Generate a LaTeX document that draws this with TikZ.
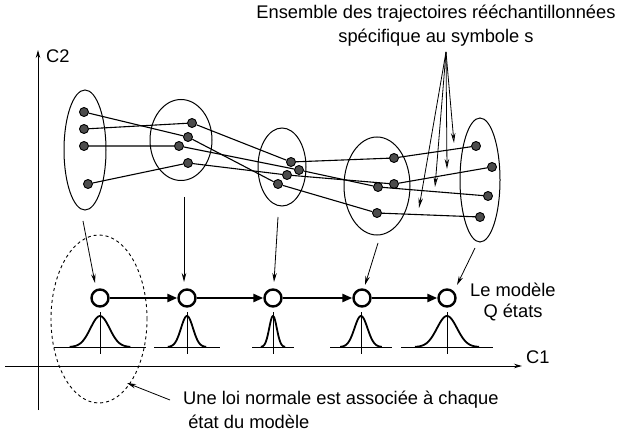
\documentclass[tikz,border=0pt]{standalone}
\usepackage{fontspec}
\setmainfont{Liberation Sans}
\usetikzlibrary{arrows.meta,shapes.geometric}
\begin{document}
\begin{tikzpicture}[x=1pt,y=-1pt,
  dot/.style={circle,fill=black!70,draw=black,line width=0.9pt,minimum size=9pt,inner sep=0pt},
  grp/.style={ellipse,draw,line width=1pt,inner sep=0pt},
  traj/.style={line width=1.1pt},
  state/.style={circle,draw,line width=2.4pt,fill=white,minimum size=17pt,inner sep=0pt},
  trans/.style={line width=2.4pt,-{Triangle[length=10pt,width=8pt]}},
  thin arrow/.style={line width=0.8pt,-{Stealth[length=9pt,width=4.5pt]}},
  bundle/.style={line width=0.8pt,-{Stealth[length=10pt,width=4.5pt,open]}},
  lbl/.style={font=\fontsize{18.3}{24}\selectfont,inner sep=0pt},
  bell/.style={line width=1.8pt},
  gline/.style={line width=0.8pt}]
\useasboundingbox (0,0) rectangle (618,438);
% axes
\coordinate (ox) at (5,366);
\coordinate (xe) at (522,366);
\coordinate (oy) at (38,410);
\coordinate (ye) at (38,50);
\draw[line width=1pt,-{Stealth[length=8pt,width=4.5pt]}] (ox) -- (xe);
\draw[line width=1pt,-{Stealth[length=8pt,width=4.5pt]}] (oy) -- (ye);
\node[lbl,anchor=west] (c1) at (526,357) {C1};
\node[lbl,anchor=west] (c2) at (46,56) {C2};
% ellipses
\node[grp,minimum width=42pt,minimum height=120pt] (e1) at (85,150) {};
\node[grp,minimum width=62pt,minimum height=81pt] (e2) at (181,140) {};
\node[grp,minimum width=48pt,minimum height=78pt] (e3) at (282,167) {};
\node[grp,minimum width=66pt,minimum height=98pt] (e4) at (377,186) {};
\node[grp,minimum width=40pt,minimum height=124pt] (e5) at (480,180) {};
% dots
\node[dot] (a1) at (84,112) {};
\node[dot] (a2) at (84,129) {};
\node[dot] (a3) at (84,146) {};
\node[dot] (a4) at (88,184) {};
\node[dot] (b1) at (192,123) {};
\node[dot] (b2) at (188,137) {};
\node[dot] (b3) at (179,146) {};
\node[dot] (b4) at (188,163) {};
\node[dot] (c1d) at (291,162) {};
\node[dot] (c2d) at (299,170) {};
\node[dot] (c3d) at (287,175) {};
\node[dot] (c4d) at (278,184) {};
\node[dot] (d1) at (394,158) {};
\node[dot] (d2) at (394,184) {};
\node[dot] (d3) at (378,187) {};
\node[dot] (d4) at (377,213) {};
\node[dot] (f1) at (476,146) {};
\node[dot] (f2) at (492,167) {};
\node[dot] (f3) at (488,196) {};
\node[dot] (f4) at (480,217) {};
% trajectories
\draw[traj] (a1) -- (b2) -- (c4d) -- (d4) -- (f4);
\draw[traj] (a2) -- (b1) -- (c1d) -- (d1) -- (f1);
\draw[traj] (a3) -- (b3) -- (c2d) -- (d3) -- (f3);
\draw[traj] (a4) -- (b4) -- (c3d) -- (d2) -- (f2);
% states
\node[state] (s1) at (100,298) {};
\node[state] (s2) at (187,298) {};
\node[state] (s3) at (273,298) {};
\node[state] (s4) at (362,298) {};
\node[state] (s5) at (447,298) {};
\draw[trans] (s1) -- (s2);
\draw[trans] (s2) -- (s3);
\draw[trans] (s3) -- (s4);
\draw[trans] (s4) -- (s5);
% ellipse-to-state arrows
\coordinate (p1) at (83,221);
\coordinate (p2) at (184,197);
\coordinate (p3) at (278,217);
\coordinate (p4) at (378,243);
\coordinate (p5) at (475,248);
\coordinate (q1) at (95,283);
\coordinate (q2) at (184,282);
\coordinate (q3) at (274,282);
\coordinate (q4) at (365,285);
\coordinate (q5) at (457,285);
\foreach \i in {1,...,5} {\draw[thin arrow] (p\i) -- (q\i);}
% gaussians
\foreach \cx/\s/\hw in {100/9.5/46, 187/6/33, 273/3.8/21, 361/6.5/31, 447/10/46} {
  \draw[gline] (\cx-\hw,347) -- (\cx+\hw,347);
  \draw[gline] (\cx,312) -- (\cx,354);
  \draw[bell] plot[domain=-3.2*\s:3.2*\s,samples=60,smooth] ({\cx+\x},{347-31*exp(-(\x*\x)/(2*\s*\s))});
}
% dashed ellipse
\node[ellipse,draw,dashed,line width=0.9pt,minimum width=96pt,minimum height=168pt,inner sep=0pt] (de) at (99,319) {};
% labels
\node[lbl,anchor=west] (mod) at (470,290) {Le mod\`ele};
\node[lbl] (qet) at (513,312) {Q \'etats};
\node[lbl,align=center] (top) at (436,26) {Ensemble des trajectoires r\'e\'echantillonn\'ees\\sp\'ecifique au symbole s};
\node[lbl,anchor=west,align=left] (loi) at (183,410) {Une loi normale est associ\'ee \`a chaque\\\ \'etat du mod\`ele};
\coordinate (la) at (170,400);
\coordinate (lb) at (127,383);
\draw[thin arrow] (la) -- (lb);
% bundle
\coordinate (apex) at (446,52);
\coordinate (t1) at (454,143);
\coordinate (t2) at (447,169);
\coordinate (t3) at (435,187);
\coordinate (t4) at (419,208);
\foreach \i in {1,...,4} {\draw[bundle] (apex) -- (t\i);}
\end{tikzpicture}
\end{document}
